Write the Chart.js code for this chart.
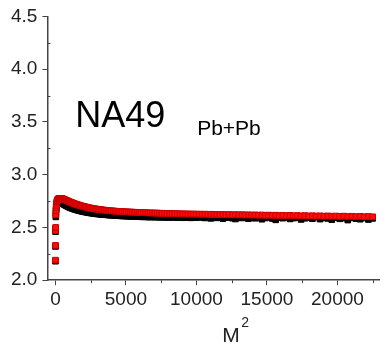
<!DOCTYPE html>
<html>
<head>
<meta charset="utf-8">
<script src="https://cdn.jsdelivr.net/npm/chart.js@4"></script>
<style>
  html, body { margin: 0; padding: 0; background: #fff; }
  #wrap { width: 385px; height: 348px; }
</style>
</head>
<body>
<div id="wrap"><canvas id="myChart" width="385" height="348"></canvas></div>
<script>
// M^2 values (x)
const mSquared = [1,4,9,16,25,36,49,64,81,100,121,144,169,196,225,256,289,324,361,400,
  441,484,529,576,625,676,729,784,841,900,961,1024,1089,1156,1225,1296,1369,1444,1521,1600,
  1681,1764,1849,1936,2025,2116,2209,2304,2401,2500,2601,2704,2809,2916,3025,3136,3249,3364,3481,3600,
  3721,3844,3969,4096,4225,4356,4489,4624,4761,4900,5041,5184,5329,5476,5625,5776,5929,6084,6241,6400,
  6561,6724,6889,7056,7225,7396,7569,7744,7921,8100,8281,8464,8649,8836,9025,9216,9409,9604,9801,10000,
  10201,10404,10609,10816,11025,11236,11449,11664,11881,12100,12321,12544,12769,12996,13225,13456,13689,13924,14161,14400,
  14641,14884,15129,15376,15625,15876,16129,16384,16641,16900,17161,17424,17689,17956,18225,18496,18769,19044,19321,19600,
  19881,20164,20449,20736,21025,21316,21609,21904,22201,22500];

// red series
const redValues = [2.19,2.33,2.47,2.50,2.62,2.66,2.69,2.71,2.73,2.745,
  2.755,2.76,2.765,2.77,2.772,2.774,2.775,2.776,2.776,2.775,
  2.774,2.772,2.770,2.768,2.765,2.762,2.759,2.756,2.752,2.749,
  2.745,2.742,2.738,2.735,2.731,2.728,2.724,2.721,2.717,2.714,
  2.711,2.707,2.704,2.701,2.698,2.695,2.692,2.689,2.686,2.684,
  2.681,2.679,2.676,2.674,2.672,2.670,2.668,2.666,2.664,2.662,
  2.661,2.659,2.658,2.656,2.655,2.653,2.652,2.651,2.650,2.649,
  2.648,2.647,2.646,2.645,2.644,2.643,2.642,2.641,2.640,2.640,
  2.639,2.638,2.637,2.637,2.636,2.635,2.634,2.634,2.633,2.632,
  2.632,2.631,2.630,2.630,2.629,2.628,2.628,2.627,2.627,2.626,
  2.626,2.625,2.626,2.624,2.625,2.623,2.624,2.622,2.623,2.621,
  2.622,2.620,2.622,2.619,2.621,2.618,2.620,2.617,2.619,2.616,
  2.618,2.615,2.617,2.614,2.616,2.613,2.615,2.612,2.614,2.611,
  2.613,2.610,2.612,2.609,2.611,2.608,2.610,2.607,2.609,2.606,
  2.608,2.605,2.607,2.604,2.606,2.603,2.605,2.602,2.604,2.601];

// black series
const blackValues = [2.18,2.32,2.46,2.49,2.60,2.64,2.67,2.69,2.71,2.72,
  2.73,2.735,2.738,2.74,2.741,2.741,2.740,2.739,2.737,2.735,
  2.732,2.729,2.726,2.722,2.718,2.714,2.710,2.706,2.702,2.698,
  2.694,2.690,2.686,2.683,2.679,2.676,2.672,2.669,2.666,2.663,
  2.660,2.657,2.654,2.651,2.649,2.646,2.644,2.641,2.639,2.637,
  2.635,2.633,2.631,2.629,2.627,2.626,2.624,2.622,2.621,2.620,
  2.618,2.617,2.616,2.614,2.613,2.612,2.611,2.610,2.609,2.608,
  2.607,2.606,2.605,2.604,2.604,2.603,2.602,2.601,2.601,2.600,
  2.599,2.598,2.600,2.597,2.599,2.596,2.598,2.595,2.597,2.594,
  2.596,2.598,2.593,2.597,2.592,2.596,2.594,2.591,2.597,2.593,
  2.600,2.594,2.590,2.598,2.586,2.595,2.591,2.599,2.584,2.593,
  2.597,2.588,2.580,2.594,2.590,2.598,2.583,2.592,2.587,2.596,
  2.578,2.590,2.595,2.585,2.572,2.592,2.588,2.596,2.581,2.589,
  2.594,2.576,2.587,2.592,2.583,2.597,2.579,2.590,2.586,2.574,
  2.593,2.582,2.589,2.570,2.591,2.584,2.578,2.590,2.575,2.586];

// axis ticks
const xTickLabels = [0, 5000, 10000, 15000, 20000];
const xMinorTicks = [2500, 7500, 12500, 17500, 22500];
const yTickLabels = [2.0, 2.5, 3.0, 3.5, 4.0, 4.5];
const yMinorTicks = [2.25, 2.75, 3.25, 3.75, 4.25];

// text labels in the plot
const notes = [
  { text: 'NA49', x: 1400, y: 3.55, font: '36px "Liberation Sans", Arial, sans-serif' },
  { text: 'Pb+Pb', x: 10050, y: 3.43, font: '21px "Liberation Sans", Arial, sans-serif' }
];

const axisColor = '#444';
const tickFont = { family: '"Liberation Sans", Arial, sans-serif', size: 19 };

const toPoints = (ys) => mSquared.map((x, i) => ({ x: x, y: ys[i] }));

const extrasPlugin = {
  id: 'extras',
  afterDraw(chart) {
    const c = chart.ctx;
    const xs = chart.scales.x, ys = chart.scales.y;
    const area = chart.chartArea;
    c.save();
    // minor ticks: y inward, x outward
    c.strokeStyle = axisColor;
    c.lineWidth = 1;
    c.beginPath();
    yMinorTicks.forEach(v => {
      const py = Math.round(ys.getPixelForValue(v)) + 0.5;
      c.moveTo(area.left, py);
      c.lineTo(area.left + 3, py);
    });
    xMinorTicks.forEach(v => {
      const px = Math.round(xs.getPixelForValue(v)) + 0.5;
      c.moveTo(px, area.bottom);
      c.lineTo(px, area.bottom + 3);
    });
    c.stroke();

    c.fillStyle = '#000';
    c.textAlign = 'left';
    c.textBaseline = 'middle';
    notes.forEach(n => {
      c.font = n.font;
      c.fillText(n.text, xs.getPixelForValue(n.x), ys.getPixelForValue(n.y));
    });
    // axis title M with superscript 2
    const mx = (area.left + area.right) / 2 + 9;
    c.fillStyle = '#222';
    c.textBaseline = 'alphabetic';
    c.font = '21px "Liberation Sans", Arial, sans-serif';
    c.fillText('M', mx, chart.height - 6);
    c.font = '14px "Liberation Sans", Arial, sans-serif';
    c.fillText('2', mx + 19, chart.height - 21);
    c.restore();
  }
};

const ctx = document.getElementById('myChart').getContext('2d');
const chart = new Chart(ctx, {
  type: 'scatter',
  data: {
    datasets: [
      {
        label: 'red',
        data: toPoints(redValues),
        pointStyle: 'rect',
        pointRadius: 4,
        backgroundColor: '#ff0a0a',
        borderColor: '#c80000',
        borderWidth: 1
      },
      {
        label: 'black',
        data: toPoints(blackValues),
        pointStyle: 'rect',
        pointRadius: 4,
        backgroundColor: '#000',
        borderColor: '#000',
        borderWidth: 1
      }
    ]
  },
  options: {
    responsive: false,
    animation: false,
    layout: { padding: { top: 14, right: 6, left: 6, bottom: 34 } },
    plugins: {
      legend: { display: false },
      tooltip: { enabled: false }
    },
    scales: {
      x: {
        type: 'linear',
        min: -570,
        max: 22950,
        afterBuildTicks: (axis) => {
          axis.ticks = xTickLabels.map(v => ({ value: v }));
        },
        ticks: {
          color: '#222',
          font: tickFont,
          maxRotation: 0,
          autoSkip: false,
          padding: 3,
          callback: (v) => String(v)
        },
        grid: {
          drawOnChartArea: false,
          tickLength: 5,
          tickColor: axisColor,
          tickWidth: 1
        },
        border: { color: axisColor, width: 1.5 }
      },
      y: {
        min: 2.0,
        max: 4.5,
        afterBuildTicks: (axis) => {
          axis.ticks = yTickLabels.map(v => ({ value: v }));
        },
        ticks: {
          color: '#222',
          font: tickFont,
          autoSkip: false,
          padding: 5,
          callback: (v) => v.toFixed(1)
        },
        grid: {
          drawOnChartArea: false,
          tickLength: 5,
          tickColor: axisColor,
          tickWidth: 1
        },
        border: { color: axisColor, width: 1.5 }
      }
    }
  },
  plugins: [extrasPlugin]
});
</script>
</body>
</html>
